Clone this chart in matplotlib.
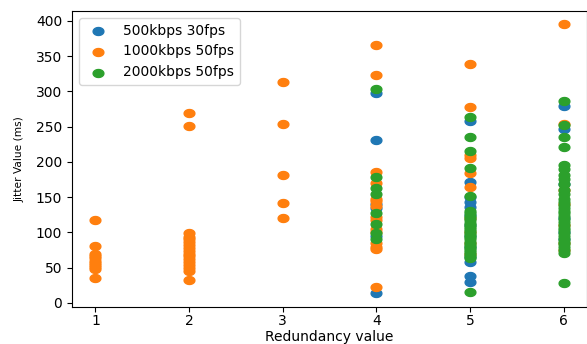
import matplotlib
matplotlib.use("Agg")
import matplotlib.pyplot as plt
import numpy as np
from matplotlib.path import Path

redundancy = [1, 2, 3, 4, 5, 6]
labels = ["500kbps 30fps", "1000kbps 50fps", "2000kbps 50fps"]

# jitter values (ms) per redundancy value, per series
jitter_500 = {
    1: [], 2: [], 3: [],
    4: [298, 231, 140, 135, 95, 14],
    5: [258, 171, 150, 143, 136, 125, 110, 95, 80, 65, 58, 38, 29],
    6: [280, 246, 168, 121, 100, 90],
}
jitter_1000 = {
    1: [118, 81, 70, 67, 64, 60, 57, 54, 51, 48, 36],
    2: [269, 251, 99, 94, 90, 86, 82, 78, 74, 70, 66, 62, 58, 54, 50, 46, 33],
    3: [313, 254, 181, 142, 121],
    4: [366, 323, 186, 170, 148, 145, 138, 122, 117, 105, 100, 85, 80, 76, 22],
    5: [339, 278, 210, 205, 185, 164, 120, 100, 85, 70],
    6: [395, 254, 160, 140, 110, 85, 75],
}
jitter_2000 = {
    1: [], 2: [], 3: [],
    4: [303, 178, 163, 155, 128, 112, 99, 90],
    5: [264, 236, 215, 192, 152, 130, 127, 124, 120, 117, 114, 111, 108, 105,
        102, 99, 96, 93, 90, 87, 84, 81, 78, 75, 72, 69, 66, 64, 15],
    6: [287, 252, 236, 221, 195, 190, 182, 176, 168, 160, 155, 147, 143, 139,
        135, 131, 127, 123, 119, 115, 111, 107, 103, 99, 95, 91, 87, 83, 79,
        75, 71, 28],
}

# slightly wide elliptical marker (the reference is stretched horizontally)
t = np.linspace(0, 2 * np.pi, 40)
ellipse = Path(np.column_stack([np.cos(t), 0.74 * np.sin(t)]), closed=True)

fig = plt.figure(figsize=(5.87, 3.44), dpi=100)
ax = fig.add_axes([0.1227, 0.109, 0.8773, 0.859])

for data, lab in zip([jitter_500, jitter_1000, jitter_2000], labels):
    xs, ys = [], []
    for r in redundancy:
        xs += [r] * len(data[r])
        ys += data[r]
    ax.scatter(xs, ys, s=60, marker=ellipse, label=lab)

ax.set_xticks(redundancy)
ax.set_yticks([0, 50, 100, 150, 200, 250, 300, 350, 400])
ax.tick_params(labelsize=10)
ax.tick_params(axis="x", pad=2)
ax.set_xlabel("Redundancy value", fontsize=10, labelpad=1)
ax.set_ylabel("Jitter Value (ms)", fontsize=7.7, labelpad=8)
ax.legend(loc="upper left", fontsize=10)

fig.savefig("out.png", dpi=100)
